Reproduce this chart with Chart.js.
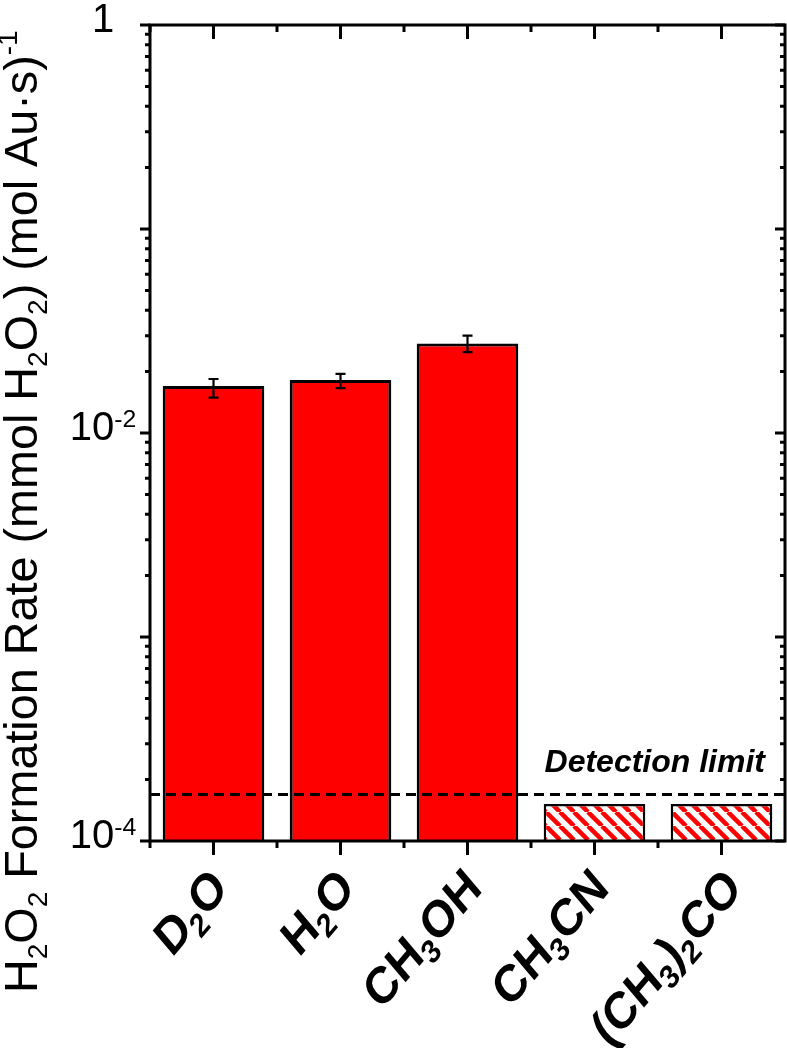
<!DOCTYPE html>
<html><head><meta charset="utf-8">
<script src="https://cdn.jsdelivr.net/npm/chart.js@4.4.1/dist/chart.umd.min.js"></script>
<style>html,body{margin:0;padding:0;background:#fff;overflow:hidden}canvas{display:block}</style>
</head><body>
<canvas id="c" width="787" height="1048"></canvas>
<script>
// ---------------- data ----------------
const categories = ['D₂O', 'H₂O', 'CH₃OH', 'CH₃CN', '(CH₃)₂CO'];
const rates = [0.0170, 0.0182, 0.0275, null, null];
const errLow = [0.0149, 0.0166, 0.0249, null, null];
const errHigh = [0.0184, 0.0195, 0.0300, null, null];
const belowLimit = [null, null, null, 1.52e-4, 1.52e-4];
const detectionLimit = 1.69e-4;
const yMajorTicks = [1, 0.1, 0.01, 0.001, 0.0001];
const yTickLabels = ['1', '10⁻²', '10⁻⁴'];
const yTickLabelValues = [1, 0.01, 0.0001];
const yTitle = 'H₂O₂ Formation Rate (mmol H₂O₂) (mol Au·s)⁻¹';
const detectionLabel = 'Detection limit';

// ---------------- rich text helpers ----------------
const FAMILY = '"Liberation Sans", Arial, Helvetica, sans-serif';
const SUB = {'₀':'0','₁':'1','₂':'2','₃':'3','₄':'4','₅':'5','₆':'6','₇':'7','₈':'8','₉':'9'};
const SUP = {'⁰':'0','¹':'1','²':'2','³':'3','⁴':'4','⁵':'5','⁶':'6','⁷':'7','⁸':'8','⁹':'9','⁻':'-'};
function parseRich(s){
  const segs = [];
  for (const ch of s){
    let mode = 'n', t = ch;
    if (SUB[ch]) { mode = 'sub'; t = SUB[ch]; }
    else if (SUP[ch]) { mode = 'sup'; t = SUP[ch]; }
    const last = segs[segs.length-1];
    if (last && last.mode === mode) last.t += t; else segs.push({mode, t});
  }
  return segs;
}
function richLayout(ctx, s, st){
  const segs = parseRich(s); let w = 0;
  for (const g of segs){
    const sz = g.mode === 'n' ? st.size : (g.mode === 'sub' ? st.size*st.subScale : st.size*st.supScale);
    g.font = `${st.style||'normal'} ${st.weight||'normal'} ${sz}px ${FAMILY}`;
    ctx.font = g.font;
    g.w = ctx.measureText(g.t).width;
    g.dy = g.mode === 'sub' ? st.subDy : (g.mode === 'sup' ? st.supDy : 0);
    g.x = w; w += g.w;
  }
  return {segs, w};
}
function drawRich(ctx, lay, x, y){
  ctx.textAlign = 'left'; ctx.textBaseline = 'alphabetic';
  for (const g of lay.segs){ ctx.font = g.font; ctx.fillText(g.t, x + g.x, y + g.dy); }
}

// ---------------- hatch pattern ----------------
function makeHatch(){
  const n = 14;
  const c = document.createElement('canvas'); c.width = n; c.height = n;
  const g = c.getContext('2d');
  g.fillStyle = '#fff'; g.fillRect(0,0,n,n);
  g.strokeStyle = '#ff0000'; g.lineWidth = 4.5;
  for (const k of [-n, 0, n]){ g.beginPath(); g.moveTo(k, 0); g.lineTo(k+n, n); g.stroke(); }
  return document.getElementById('c').getContext('2d').createPattern(c, 'repeat');
}

// ---------------- custom drawing plugin ----------------
const framePlugin = {
  id: 'frame',
  afterDatasetsDraw(chart){
    const {ctx, chartArea: a, scales: {x, y}} = chart;
    ctx.save();
    // error bars
    ctx.strokeStyle = '#000'; ctx.lineWidth = 2.2;
    categories.forEach((_, i) => {
      if (errLow[i] == null) return;
      const px = x.getPixelForValue(i);
      const y1 = y.getPixelForValue(errHigh[i]), y2 = y.getPixelForValue(errLow[i]);
      ctx.beginPath();
      ctx.moveTo(px, y1); ctx.lineTo(px, y2);
      ctx.moveTo(px-5, y1); ctx.lineTo(px+5, y1);
      ctx.moveTo(px-5, y2); ctx.lineTo(px+5, y2);
      ctx.stroke();
    });
    // detection limit line
    const dy = y.getPixelForValue(detectionLimit);
    ctx.setLineDash([10, 6]); ctx.lineWidth = 3;
    ctx.beginPath(); ctx.moveTo(a.left, dy); ctx.lineTo(a.right, dy); ctx.stroke();
    ctx.setLineDash([]);
    ctx.fillStyle = '#000';
    ctx.font = `italic bold 32px ${FAMILY}`; ctx.textAlign = 'right'; ctx.textBaseline = 'alphabetic';
    ctx.fillText(detectionLabel, a.right - 20, dy - 23);

    // frame
    ctx.lineWidth = 3; ctx.strokeStyle = '#000';
    ctx.strokeRect(a.left, a.top, a.right - a.left, a.bottom - a.top);
    ctx.lineCap = 'butt';
    // y ticks
    ctx.beginPath();
    const minL = Math.log10(y.min), maxL = Math.log10(y.max);
    for (let n = Math.round(minL); n < Math.round(maxL); n++){
      for (let k = 2; k <= 9; k++){
        const py = y.getPixelForValue(k*Math.pow(10, n));
        ctx.moveTo(a.left - 5, py); ctx.lineTo(a.left, py);
        ctx.moveTo(a.right - 5, py); ctx.lineTo(a.right, py);
      }
    }
    yMajorTicks.forEach(v => {
      const py = y.getPixelForValue(v);
      ctx.moveTo(a.left - 10, py); ctx.lineTo(a.left, py);
      ctx.moveTo(a.right - 10, py); ctx.lineTo(a.right, py);
    });
    // x ticks
    const half = (x.getPixelForValue(1) - x.getPixelForValue(0)) / 2;
    categories.forEach((_, i) => {
      const px = x.getPixelForValue(i);
      ctx.moveTo(px, a.bottom); ctx.lineTo(px, a.bottom + 14);
      ctx.moveTo(px, a.top); ctx.lineTo(px, a.top + 14);
      ctx.moveTo(px - half, a.bottom); ctx.lineTo(px - half, a.bottom + 7);
      ctx.moveTo(px - half, a.top); ctx.lineTo(px - half, a.top + 7);
    });
    ctx.stroke();

    // y tick labels
    ctx.fillStyle = '#000';
    yTickLabels.forEach((t, i) => {
      const py = y.getPixelForValue(yTickLabelValues[i]);
      const lay = richLayout(ctx, t, {size: 40, subScale: 0.6, subDy: 8, supScale: 0.62, supDy: -13});
      drawRich(ctx, lay, 103 - lay.w/2, py + 7);
    });

    // x labels (rotated)
    const lblDx = [5, 5, 5, 5, 11];
    categories.forEach((t, i) => {
      const px = x.getPixelForValue(i);
      const lay = richLayout(ctx, t, {size: 44, weight: 'bold', subScale: 0.64, subDy: 9, supScale: 0.6, supDy: -16});
      ctx.save();
      ctx.translate(px + lblDx[i], a.bottom + 36);
      ctx.scale(1, 1.18);
      ctx.rotate(-Math.PI/4);
      drawRich(ctx, lay, -lay.w, 0.716*44/2);
      ctx.restore();
    });

    // y title
    let st = {size: 46, subScale: 0.6, subDy: 10, supScale: 0.6, supDy: -20};
    let lay = richLayout(ctx, yTitle, st);
    const target = 963;
    st.size = 46 * target / lay.w;
    lay = richLayout(ctx, yTitle, st);
    ctx.save();
    ctx.translate(37, 993);
    ctx.rotate(-Math.PI/2);
    drawRich(ctx, lay, 0, 0);
    ctx.restore();

    ctx.restore();
  }
};

const hatch = makeHatch();

new Chart(document.getElementById('c'), {
  type: 'bar',
  data: {
    labels: categories,
    datasets: [
      {label: 'Rate', data: rates, backgroundColor: '#ff0000', borderColor: '#000', borderWidth: 3,
       barPercentage: 0.8, categoryPercentage: 1, grouped: false},
      {label: 'Below detection limit', data: belowLimit, backgroundColor: hatch, borderColor: '#000', borderWidth: 2.5,
       barPercentage: 0.8, categoryPercentage: 1, grouped: false}
    ]
  },
  options: {
    responsive: false, animation: false, devicePixelRatio: 1,
    layout: {padding: {top: 25, right: 2, left: 0, bottom: 0}},
    plugins: {legend: {display: false}, tooltip: {enabled: false}},
    scales: {
      x: {type: 'category', offset: true, grid: {display: false}, border: {display: false},
          ticks: {display: false}, afterFit(s){ s.height = 207; }},
      y: {type: 'logarithmic', min: 1e-4, max: 1, grid: {display: false}, border: {display: false},
          ticks: {display: false}, afterFit(s){ s.width = 150; }}
    }
  },
  plugins: [framePlugin]
});
</script>
</body></html>
